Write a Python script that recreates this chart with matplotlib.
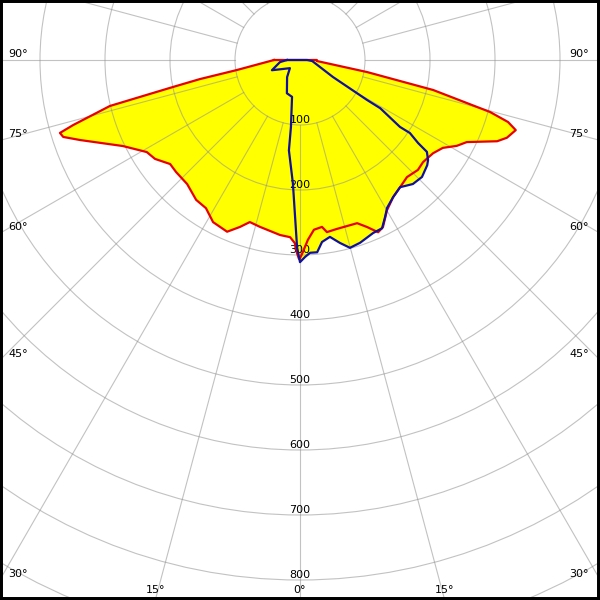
import numpy as np
import matplotlib
matplotlib.use("Agg")
import matplotlib.pyplot as plt
from matplotlib.patches import Circle, Rectangle

# gamma angle in degrees (negative = left half), luminous intensity in cd
red_gamma = [-90, -81, -79.2, -78, -76.4, -74, -73.1, -72, -70, -67.5, -64.1, -59, -55.7, -51.3,
             -47.9, -42.3, -36.6, -32.4, -28.2, -23, -19.8, -17.2, -13.5, -6.5, -3.2, -1.6, -0.9,
             -0.3, 0, 0.9, 2.5, 4.7, 7.5, 8.9, 12.3, 19.3, 21.9, 24.4, 26.4, 30.1, 34.2, 38.2,
             42.4, 47, 50.3, 55, 58.4, 61.3, 63.8, 67.6, 69.4, 72, 73.4, 74.7, 77.3, 79.8, 86.6, 90]
red_cd = [40, 98, 157, 200, 301, 363, 386, 383, 360, 333, 303, 275, 270, 256,
          257, 258, 268, 270, 283, 287, 273, 261, 264, 271, 273, 282, 297,
          306, 305, 295, 277, 262, 259, 268, 266, 266, 277, 291, 287, 267, 255, 249,
          244, 248, 246, 250, 258, 275, 286, 328, 340, 349, 334, 303, 210, 105, 26, 26]

blue_gamma = [-90, -84, -70, -51, -37, -21.5, -12.2, -7.7, -7.0, -3.3, -0.9, 0, 1.5, 3.0, 5.1,
              6.9, 9.6, 12.3, 14.9, 18.2, 22.9, 26.0, 28.4, 30.5, 34.2, 38.2, 42.3, 46.2, 50.4,
              52.0, 54.1, 54.9, 56.4, 56.2, 59.0, 59.2, 62.7, 85, 90]
blue_cd = [20, 31, 46, 20, 33, 55, 58, 104, 140, 190, 288, 311, 303, 297, 297,
           282, 276, 288, 299, 296, 289, 288, 275, 264, 255, 249, 258, 260, 254,
           250, 241, 222, 203, 185, 144, 120, 57, 19, 11]

ring_values = [100, 200, 300, 400, 500, 600, 700, 800, 900, 1000]
ring_labels = ["100", "200", "300", "400", "500", "600", "700", "800"]
side_angles = [90, 75, 60, 45, 30]
bottom_angles = [-15, 0, 15]


def to_xy(gamma, cd, close=False):
    g = np.radians(np.asarray(gamma, dtype=float))
    cd = np.asarray(cd, dtype=float)
    x, y = cd * np.sin(g), -cd * np.cos(g)
    if close:
        x, y = np.append(x, x[0]), np.append(y, y[0])
    return x, y


scale = 0.65  # pixels per cd
xmax = 300 / scale
ymin, ymax = -540 / scale, 60 / scale

fig = plt.figure(figsize=(6, 6), dpi=100)
ax = fig.add_axes([0, 0, 1, 1])
ax.set_xlim(-xmax, xmax)
ax.set_ylim(ymin, ymax)
ax.axis("off")

# yellow area = union of both planes
ax.fill(*to_xy(red_gamma, red_cd), color="#ffff00", lw=0, zorder=1)
ax.fill(*to_xy(blue_gamma, blue_cd), color="#ffff00", lw=0, zorder=1)

grid_kw = dict(color="#909090", alpha=0.55, lw=0.8, zorder=2)
for r in ring_values:
    ax.add_patch(Circle((0, 0), r, fill=False, ec=grid_kw["color"], alpha=grid_kw["alpha"],
                        lw=grid_kw["lw"], zorder=2))
for a in range(0, 360, 15):
    t = np.radians(a)
    ax.plot([100 * np.sin(t), 1200 * np.sin(t)], [-100 * np.cos(t), -1200 * np.cos(t)], **grid_kw)

txt = dict(fontsize=8, color="black", zorder=3, textcoords="offset pixels", va="baseline")
for lab, r in zip(ring_labels, ring_values):
    ax.annotate(lab, xy=(0, -r), xytext=(0, 2), ha="center", **txt)

for a in side_angles:
    t = np.radians(a)
    y_edge = -xmax * np.cos(t) / np.sin(t)
    ax.annotate(f"{a}\u00b0", xy=(-xmax, y_edge), xytext=(8, 3), ha="left", **txt)
    ax.annotate(f"{a}\u00b0", xy=(xmax, y_edge), xytext=(-11, 3), ha="right", **txt)
for a in bottom_angles:
    t = np.radians(a)
    ax.annotate(f"{abs(a)}\u00b0", xy=(-ymin * np.tan(t), ymin), xytext=(0, 7), ha="center", **txt)

ax.plot(*to_xy(red_gamma, red_cd, close=True), color="#e80000", lw=1.6, zorder=4,
        solid_joinstyle="round")
ax.plot(*to_xy(blue_gamma, blue_cd, close=True), color="#10109a", lw=1.6, zorder=5,
        solid_joinstyle="round")

fig.patches.append(Rectangle((0, 0), 1, 1, transform=fig.transFigure, fill=False,
                             ec="black", lw=4.3, zorder=10))

fig.savefig("out.png", dpi=100)
